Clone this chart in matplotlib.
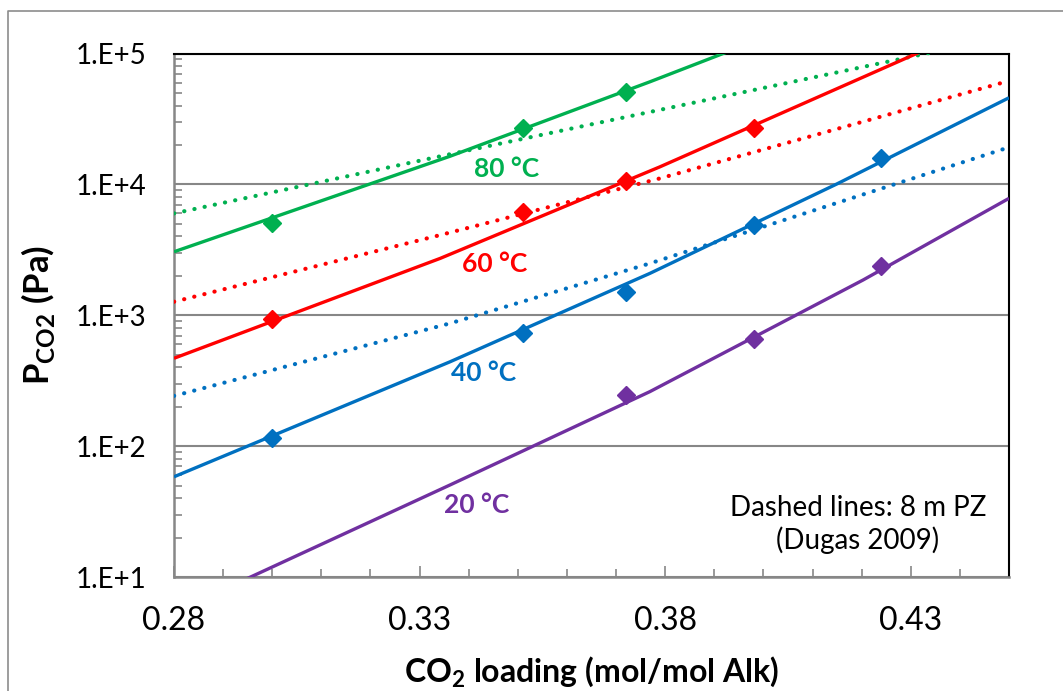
import matplotlib
matplotlib.use("Agg")
import matplotlib.pyplot as plt
from matplotlib.lines import Line2D

plt.rcParams["font.family"] = ["Lato", "DejaVu Sans"]
plt.rcParams["mathtext.fontset"] = "custom"
plt.rcParams["mathtext.rm"] = "Lato"
plt.rcParams["mathtext.bf"] = "Lato:bold"

# measured points (diamonds)
load_20 = [0.372, 0.398, 0.424]
p_20 = [245, 658, 2380]
load_40 = [0.300, 0.351, 0.372, 0.398, 0.424]
p_40 = [115, 731, 1500, 4890, 15800]
load_60 = [0.300, 0.351, 0.372, 0.398]
p_60 = [935, 6150, 10600, 26900]
load_80 = [0.300, 0.351, 0.372]
p_80 = [5060, 26900, 50700]

# model curves (solid)
fit_x_20 = [0.290, 0.3362, 0.3769, 0.4203, 0.450]
fit_p_20 = [8.0, 50.5, 261, 1860, 7820]
fit_x_40 = [0.280, 0.3362, 0.3769, 0.4149, 0.450]
fit_p_40 = [58.3, 441, 2090, 10050, 45900]
fit_x_60 = [0.280, 0.3342, 0.3789, 0.4312, 0.440]
fit_p_60 = [469, 2720, 13600, 100000, 141000]
fit_x_80 = [0.280, 0.3362, 0.3769, 0.3918, 0.400]
fit_p_80 = [3055, 16400, 60800, 100000, 132000]

# Dugas 2009, 8 m PZ (dotted)
dug_x_40 = [0.280, 0.3362, 0.3769, 0.450]
dug_p_40 = [242, 867, 2490, 19200]
dug_x_60 = [0.280, 0.3342, 0.3789, 0.450]
dug_p_60 = [1268, 4100, 11100, 61800]
dug_x_80 = [0.280, 0.3362, 0.4332, 0.440]
dug_p_80 = [6000, 17000, 100000, 113000]

x_ticks = [0.28, 0.33, 0.38, 0.43]
y_ticks = [1e1, 1e2, 1e3, 1e4, 1e5]
y_tick_labels = ["1.E+1", "1.E+2", "1.E+3", "1.E+4", "1.E+5"]

GREEN = "#00B050"
RED = "#FF0000"
BLUE = "#0070C0"
PURPLE = "#7030A0"
GRAY = "#878787"

series = [
    ("20 °C", PURPLE, load_20, p_20, fit_x_20, fit_p_20, None, None, (0.3416, 35.5)),
    ("40 °C", BLUE, load_40, p_40, fit_x_40, fit_p_40, dug_x_40, dug_p_40, (0.3431, 361)),
    ("60 °C", RED, load_60, p_60, fit_x_60, fit_p_60, dug_x_60, dug_p_60, (0.3452, 2460)),
    ("80 °C", GREEN, load_80, p_80, fit_x_80, fit_p_80, dug_x_80, dug_p_80, (0.3478, 13100)),
]

fig = plt.figure(figsize=(10.63, 6.91), dpi=100)
ax = fig.add_axes([174 / 1063, 1 - 577 / 691, 835 / 1063, 523.5 / 691])

for label, c, lx, lp, fx, fp, dx, dp, (tx, ty) in series:
    if dx is not None:
        ax.plot(dx, dp, color=c, lw=3.0, linestyle=(0, (0.05, 2.45)),
                dash_capstyle="round", zorder=3)
    ax.plot(fx, fp, color=c, lw=2.4, solid_capstyle="butt", zorder=4)
    ax.plot(lx, lp, "D", color=c, markersize=9, zorder=5)
    ax.text(tx, ty, label, color=c, fontsize=19, fontweight="bold",
            ha="center", va="center", zorder=6)

ax.set_yscale("log")
ax.set_xlim(0.28, 0.45)
ax.set_ylim(1e1, 1e5)
ax.set_xticks(x_ticks)
ax.set_xticks([0.28 + 0.01 * i for i in range(18)], minor=True)
ax.set_yticks(y_ticks, y_tick_labels)
ax.tick_params(axis="both", which="both", direction="in", color=GRAY, width=1.2)
ax.tick_params(axis="x", which="major", length=8, pad=21, labelsize=23)
ax.tick_params(axis="x", which="minor", length=6)
ax.tick_params(axis="y", which="major", length=7, pad=20, labelsize=20)
ax.tick_params(axis="y", which="minor", length=6)
ax.grid(True, axis="y", which="major", color=GRAY, lw=1.5)
ax.set_axisbelow(True)

for side in ("left", "bottom"):
    ax.spines[side].set_color(GRAY)
    ax.spines[side].set_linewidth(1.8)
for side in ("top", "right"):
    ax.spines[side].set_color("black")
    ax.spines[side].set_linewidth(1.5)

ax.text(0.819, 0.100, "Dashed lines: 8 m PZ\n(Dugas 2009)", transform=ax.transAxes,
        fontsize=20, ha="center", va="center", linespacing=1.25)

ax.set_xlabel(r"CO$_\mathbf{2}$ loading (mol/mol Alk)", fontsize=23,
              fontweight="bold", va="center")
ax.xaxis.set_label_coords(0.5, -0.1815)
ax.set_ylabel(r"P$_\mathbf{CO2}$ (Pa)", fontsize=25, fontweight="bold", va="center")
ax.yaxis.set_label_coords(-0.163, 0.5)

# chart area border (only left and top edges fall inside the image)
fig.add_artist(Line2D([7.5 / 1063, 7.5 / 1063, 1.0], [0.0, 1 - 11 / 691, 1 - 11 / 691],
                      transform=fig.transFigure, color="#8c8c8c", lw=1.2))

fig.savefig("out.png", dpi=100)
